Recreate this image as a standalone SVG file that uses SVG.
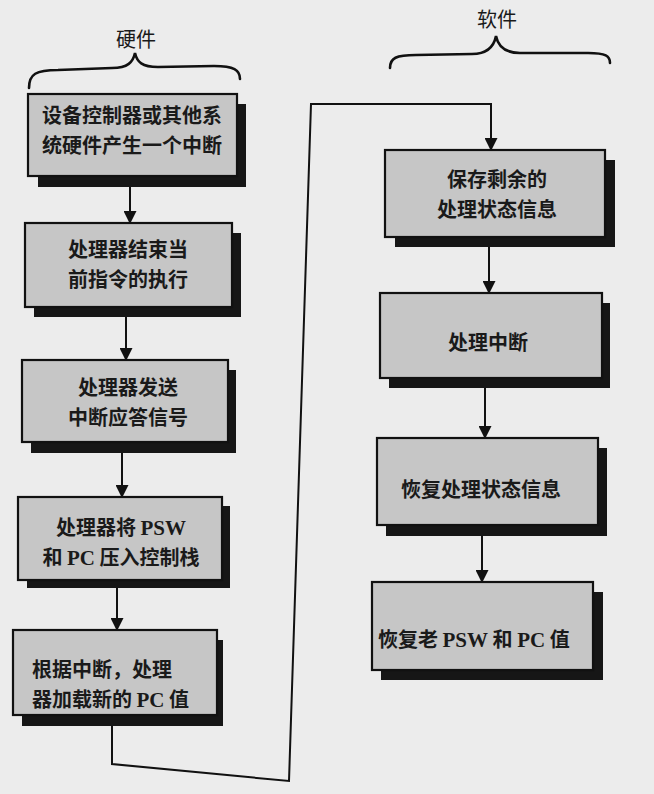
<svg xmlns="http://www.w3.org/2000/svg" width="654" height="794" viewBox="0 0 654 794">
  <style>
    .face { fill: #c6c6c6; stroke: #111; stroke-width: 2.2; }
    .shadow { fill: #161616; }
    .txt { font-family: "Noto Sans CJK SC", "Noto Sans", sans-serif; font-size: 20px; font-weight: 700; fill: #1a1a1a; }
    .lat { font-family: "Liberation Serif", serif; font-weight: 700; font-size: 21px; }
    .head { font-family: "Noto Sans CJK SC", "Noto Sans", sans-serif; font-size: 20px; fill: #1a1a1a; }
    .wire { fill: none; stroke: #111; stroke-width: 2; }
    .brace { fill: none; stroke: #111; stroke-width: 2.6; stroke-linecap: round; }
  </style>
  <defs>
    <marker id="arrow" viewBox="0 0 12 12" refX="11" refY="6" markerWidth="6.5" markerHeight="6.5" markerUnits="strokeWidth" orient="auto">
      <path d="M0,0 L12,6 L0,12 Z" fill="#111"/>
    </marker>
  </defs>

  <rect width="654" height="794" fill="#ececec"/>

  <!-- section headings with braces -->
  <g id="hardware-label">
    <text class="head" x="136" y="47" text-anchor="middle">硬件</text>
    <path class="brace" d="M29,88 C29,74 36,70 58,70 L112,68 C128,68 133,62 135,53 C137,62 142,67 158,67 L214,66 C234,66 240,70 240,79"/>
  </g>
  <g id="software-label">
    <text class="head" x="497" y="27" text-anchor="middle">软件</text>
    <path class="brace" d="M390,68 C390,58 396,55 416,55 L472,54 C488,54 494,46 496,36 C498,46 504,53 520,53 L588,53 C606,53 610,56 610,63"/>
  </g>

  <!-- connectors -->
  <g id="connectors">
    <path class="wire" marker-end="url(#arrow)" d="M130,176 L130,223"/>
    <path class="wire" marker-end="url(#arrow)" d="M126,307 L126,360"/>
    <path class="wire" marker-end="url(#arrow)" d="M122,442 L122,497"/>
    <path class="wire" marker-end="url(#arrow)" d="M117,580 L117,630"/>
    <path class="wire" marker-end="url(#arrow)" d="M112,715 L112,764 L289,781 L311,104 L491,104 L491,150"/>
    <path class="wire" marker-end="url(#arrow)" d="M489,237 L489,293"/>
    <path class="wire" marker-end="url(#arrow)" d="M485,378 L485,438"/>
    <path class="wire" marker-end="url(#arrow)" d="M482,525 L482,582"/>
  </g>

  <!-- hardware steps -->
  <g id="n1">
    <rect class="shadow" x="38" y="104" width="208" height="83"/>
    <rect class="face" x="28" y="94" width="209" height="82"/>
    <text class="txt" x="132" y="123" text-anchor="middle">设备控制器或其他系</text>
    <text class="txt" x="132" y="153" text-anchor="middle">统硬件产生一个中断</text>
  </g>
  <g id="n2">
    <rect class="shadow" x="34" y="233" width="207" height="84"/>
    <rect class="face" x="25" y="223" width="207" height="84"/>
    <text class="txt" x="128" y="257" text-anchor="middle">处理器结束当</text>
    <text class="txt" x="128" y="287" text-anchor="middle">前指令的执行</text>
  </g>
  <g id="n3">
    <rect class="shadow" x="31" y="370" width="205" height="83"/>
    <rect class="face" x="22" y="360" width="206" height="82"/>
    <text class="txt" x="128" y="395" text-anchor="middle">处理器发送</text>
    <text class="txt" x="128" y="425" text-anchor="middle">中断应答信号</text>
  </g>
  <g id="n4">
    <rect class="shadow" x="27" y="506" width="203" height="82"/>
    <rect class="face" x="18" y="497" width="204" height="83"/>
    <text class="txt" x="121" y="535" text-anchor="middle">处理器将 <tspan class="lat">PSW</tspan></text>
    <text class="txt" x="121" y="565" text-anchor="middle">和 <tspan class="lat">PC</tspan> 压入控制栈</text>
  </g>
  <g id="n5">
    <rect class="shadow" x="22" y="640" width="201" height="86"/>
    <rect class="face" x="13" y="630" width="204" height="85"/>
    <text class="txt" x="32" y="677">根据中断，处理</text>
    <text class="txt" x="32" y="707">器加载新的 <tspan class="lat">PC</tspan> 值</text>
  </g>

  <!-- software steps -->
  <g id="n6">
    <rect class="shadow" x="395" y="160" width="220" height="87"/>
    <rect class="face" x="385" y="150" width="220" height="87"/>
    <text class="txt" x="497" y="187" text-anchor="middle">保存剩余的</text>
    <text class="txt" x="497" y="217" text-anchor="middle">处理状态信息</text>
  </g>
  <g id="n7">
    <rect class="shadow" x="389" y="303" width="221" height="85"/>
    <rect class="face" x="380" y="293" width="222" height="85"/>
    <text class="txt" x="488" y="350" text-anchor="middle">处理中断</text>
  </g>
  <g id="n8">
    <rect class="shadow" x="386" y="448" width="221" height="88"/>
    <rect class="face" x="377" y="438" width="221" height="87"/>
    <text class="txt" x="481" y="497" text-anchor="middle">恢复处理状态信息</text>
  </g>
  <g id="n9">
    <rect class="shadow" x="381" y="592" width="222" height="88"/>
    <rect class="face" x="372" y="582" width="221" height="88"/>
    <text class="txt" x="378" y="647">恢复老 <tspan class="lat">PSW</tspan> 和 <tspan class="lat">PC</tspan> 值</text>
  </g>
</svg>
